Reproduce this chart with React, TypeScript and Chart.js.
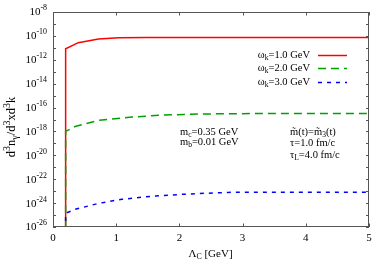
import React, { useEffect, useRef } from "react";
import { Chart, registerables } from "chart.js";

Chart.register(...registerables);

// Lambda_C [GeV] and d3n/d3xd3k values
const lambdaRed = [0.2, 0.2, 0.4, 0.72, 1.04, 1.5, 2, 3, 4, 5];
const valuesRed = [1e-27, 8.3e-12, 2.7e-11, 5.4e-11, 7.1e-11, 7.3e-11, 7.3e-11, 7.3e-11, 7.3e-11, 7.3e-11];

const lambdaGreen = [0.2, 0.2, 0.35, 0.72, 1.25, 1.77, 2.35, 3, 4, 5];
const valuesGreen = [1e-27, 1.0e-18, 2.6e-18, 8.5e-18, 1.6e-17, 2.4e-17, 2.9e-17, 3.1e-17, 3.2e-17, 3.2e-17];

const lambdaBlue = [0.2, 0.2, 0.35, 0.72, 1.09, 1.62, 2.14, 2.77, 3.5, 5];
const valuesBlue = [1e-27, 1.4e-25, 3.0e-25, 9.5e-25, 2.1e-24, 4.0e-24, 5.8e-24, 7.9e-24, 8.3e-24, 8.3e-24];

const seriesLabels = ["1.0 GeV", "2.0 GeV", "3.0 GeV"];
const seriesColors = ["#ff0000", "#00a000", "#0000ff"];
const seriesDashes: number[][] = [[], [8, 5], [4, 5]];

const xTicks = [0, 1, 2, 3, 4, 5];
const yMajorExps = [-8, -10, -12, -14, -16, -18, -20, -22, -24, -26];
const yMinorExps = [-9, -11, -13, -15, -17, -19, -21, -23, -25];

const FONT = '"Liberation Serif", "Times New Roman", serif';

type Seg = { t: string; m?: "sup" | "sub" };

function richWidth(ctx: CanvasRenderingContext2D, segs: Seg[], size: number, sc: number) {
  let w = 0;
  for (const s of segs) {
    const fs = s.m ? size * sc : size;
    ctx.font = `${fs}px ${FONT}`;
    w += ctx.measureText(s.t).width;
  }
  return w;
}

function drawRich(
  ctx: CanvasRenderingContext2D,
  segs: Seg[],
  x: number,
  y: number,
  size: number,
  align: "left" | "right" | "center",
  sc = 0.72
) {
  const w = richWidth(ctx, segs, size, sc);
  let cx = align === "left" ? x : align === "right" ? x - w : x - w / 2;
  ctx.textBaseline = "middle";
  ctx.textAlign = "left";
  for (const s of segs) {
    const fs = s.m ? size * sc : size;
    ctx.font = `${fs}px ${FONT}`;
    const dy = s.m === "sup" ? -size * 0.38 : s.m === "sub" ? size * 0.3 : 0;
    ctx.fillText(s.t, cx, y + dy);
    cx += ctx.measureText(s.t).width;
  }
}

const decoPlugin = {
  id: "deco",
  afterDatasetsDraw(chart: any) {
    const ctx: CanvasRenderingContext2D = chart.ctx;
    const xs = chart.scales.x;
    const ys = chart.scales.y;
    const a = chart.chartArea;
    ctx.save();
    // frame
    ctx.strokeStyle = "#555";
    ctx.lineWidth = 1;
    ctx.strokeRect(Math.round(a.left) + 0.5, Math.round(a.top) + 0.5, Math.round(a.right - a.left) - 1, Math.round(a.bottom - a.top) - 1);
    // x ticks
    ctx.beginPath();
    for (const v of xTicks) {
      const px = Math.round(xs.getPixelForValue(v)) + 0.5;
      ctx.moveTo(px, a.bottom);
      ctx.lineTo(px, a.bottom - 3.5);
      ctx.moveTo(px, a.top);
      ctx.lineTo(px, a.top + 3.5);
    }
    // y ticks
    for (const e of [...yMajorExps, ...yMinorExps]) {
      const py = Math.round(ys.getPixelForValue(Math.pow(10, e))) + 0.5;
      ctx.moveTo(a.left, py);
      ctx.lineTo(a.left + 3, py);
      ctx.moveTo(a.right, py);
      ctx.lineTo(a.right - 3, py);
    }
    ctx.stroke();
    ctx.fillStyle = "#000";
    // y tick labels
    for (const e of yMajorExps) {
      const py = ys.getPixelForValue(Math.pow(10, e));
      drawRich(ctx, [{ t: "10" }, { t: String(e), m: "sup" }], a.left - 6, py + 0.5, 11, "right");
    }
    // x tick labels
    for (const v of xTicks) {
      const px = xs.getPixelForValue(v);
      drawRich(ctx, [{ t: String(v) }], px, a.bottom + 11, 11, "center");
    }
    // x title
    drawRich(ctx, [{ t: "Λ" }, { t: "C", m: "sub" }, { t: " [GeV]" }], (a.left + a.right) / 2 - 0.5, a.bottom + 27, 11, "center");
    // y title
    ctx.save();
    ctx.translate(12, 127);
    ctx.rotate(-Math.PI / 2);
    drawRich(
      ctx,
      [
        { t: "d" }, { t: "3", m: "sup" }, { t: "n" }, { t: "γ", m: "sub" },
        { t: "/d" }, { t: "3", m: "sup" }, { t: "xd" }, { t: "3", m: "sup" }, { t: "k" },
      ],
      0, 0, 12.5, "center", 0.8
    );
    ctx.restore();
    // legend
    const legY = [55, 68, 82];
    for (let i = 0; i < 3; i++) {
      drawRich(ctx, [{ t: "ω" }, { t: "k", m: "sub" }, { t: "=" + seriesLabels[i] }], 310, legY[i], 10.5, "right");
      ctx.save();
      ctx.strokeStyle = seriesColors[i];
      ctx.lineWidth = 1.5;
      ctx.setLineDash(seriesDashes[i]);
      ctx.beginPath();
      ctx.moveTo(318, legY[i] + 0.5);
      ctx.lineTo(347, legY[i] + 0.5);
      ctx.stroke();
      ctx.restore();
    }
    // annotations
    ctx.fillStyle = "#000";
    drawRich(ctx, [{ t: "m" }, { t: "c", m: "sub" }, { t: "=0.35 GeV" }], 180, 132, 10.5, "left");
    drawRich(ctx, [{ t: "m" }, { t: "b", m: "sub" }, { t: "=0.01 GeV" }], 180, 142, 10.5, "left");
    drawRich(ctx, [{ t: "m\u0303(t)=m\u0303" }, { t: "3", m: "sub" }, { t: "(t)" }], 290, 132, 10.5, "left");
    drawRich(ctx, [{ t: "τ=1.0 fm/c" }], 290, 143, 10.5, "left");
    drawRich(ctx, [{ t: "τ" }, { t: "L", m: "sub" }, { t: "=4.0 fm/c" }], 290, 155, 10.5, "left");
    ctx.restore();
  },
};

export default function App() {
  const ref = useRef<HTMLCanvasElement | null>(null);
  useEffect(() => {
    if (!ref.current) return;
    const mk = (xsArr: number[], ysArr: number[]) => xsArr.map((x, i) => ({ x, y: ysArr[i] }));
    const chart = new Chart(ref.current, {
      type: "line",
      data: {
        datasets: [
          { data: mk(lambdaRed, valuesRed), borderColor: seriesColors[0], borderDash: seriesDashes[0], order: 3 },
          { data: mk(lambdaGreen, valuesGreen), borderColor: seriesColors[1], borderDash: seriesDashes[1], order: 2 },
          { data: mk(lambdaBlue, valuesBlue), borderColor: seriesColors[2], borderDash: seriesDashes[2], order: 1 },
        ].map((d) => ({ ...d, borderWidth: 1.5, pointRadius: 0, tension: 0, fill: false })),
      },
      options: {
        animation: false,
        responsive: false,
        maintainAspectRatio: false,
        devicePixelRatio: 1,
        layout: { padding: { left: 53, top: 12, right: 20, bottom: 46 } },
        plugins: { legend: { display: false }, tooltip: { enabled: false } },
        scales: {
          x: { type: "linear", min: 0, max: 5, display: false },
          y: { type: "logarithmic", min: 1e-26, max: 1e-8, display: false },
        },
      },
      plugins: [decoPlugin],
    } as any);
    return () => chart.destroy();
  }, []);
  return (
    <div style={{ position: "absolute", left: 0, top: 0, width: 389, height: 273, background: "#fff" }}>
      <canvas ref={ref} width={389} height={273} style={{ width: 389, height: 273 }} />
    </div>
  );
}
